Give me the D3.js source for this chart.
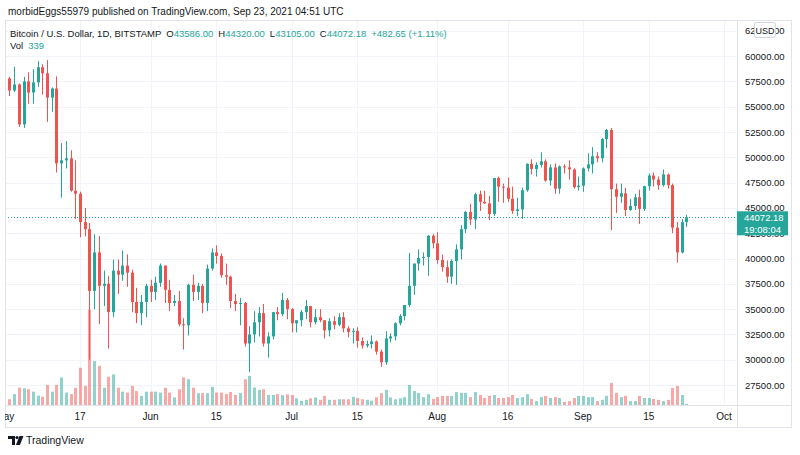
<!DOCTYPE html>
<html>
<head>
<meta charset="utf-8">
<script src="https://cdn.jsdelivr.net/npm/d3@7"></script>
<style>
  body { margin: 0; background: #fff; }
  svg { display: block; font-family: "Liberation Sans", Arial, sans-serif; }
</style>
</head>
<body>
<div id="chart"></div>
<script>

// daily candles, BITSTAMP BTC/USD, starting 2 May 2021
var firstDay = "2021-05-02";

var open = [
  57800, 56600, 57200, 53250, 57500, 56400, 57400, 58900, 58300, 55900, 56800, 49400, 49700, 49900, 46700, 46400, 43600, 42900, 36800, 40600, 37300, 37500, 34700, 38800, 38400, 39300, 38600, 35700, 34600, 35700,
  37300, 36700, 37600, 39300, 36900, 35600, 35800, 33500, 33400, 37400, 36700, 37300, 35600, 39000, 40600, 40250, 38350, 38200, 35800, 35500, 35600, 31600, 32500, 33700, 34600, 31600, 32300, 34700, 34500, 35900,
  35000, 33600, 33900, 34700, 35300, 33700, 34200, 33900, 32900, 33800, 33450, 34200, 33100, 32750, 32850, 31850, 31400, 31550, 31800, 30800, 29750, 32100, 32300, 33600, 34300, 35400, 37300, 39500, 40050, 40150, 42250,
  41500, 39850, 39150, 38200, 39750, 40900, 42900, 44600, 43850, 46350, 45600, 45450, 44400, 47950, 47100, 47000, 45900, 44700, 44850, 46750, 49350, 48850, 49250, 49600, 47700, 49000, 46900, 49100, 49000, 48800, 47050,
  47200, 48900, 49300, 50100, 49900, 51800, 52700, 46850, 46100, 46450, 44800, 45200, 46050, 44900, 47150, 48200, 47800, 47250, 48300, 47250, 43050, 40600, 43586
];
var high = [
  57950, 58950, 57300, 57950, 58400, 58700, 59500, 59200, 59600, 56900, 58000, 51400, 51600, 50700, 49700, 46600, 45000, 43500, 42400, 42200, 38800, 38300, 39900, 39900, 40800, 40400, 38900, 37100, 36400, 37500,
  37900, 38200, 39500, 39300, 37900, 36400, 36800, 34100, 37500, 38400, 37600, 37500, 39400, 41000, 41300, 40500, 39500, 38300, 36500, 36100, 35700, 33300, 34800, 35200, 35500, 32700, 34700, 35200, 36600, 36100,
  35100, 33900, 34900, 35900, 35300, 35000, 35000, 33900, 34100, 34300, 34600, 34700, 33300, 33100, 33200, 32200, 31900, 32400, 31900, 31000, 32800, 32600, 33700, 34500, 35400, 40550, 39500, 40900, 40600, 42300, 42400,
  42600, 40400, 39800, 39900, 41400, 43300, 44700, 45400, 46500, 46700, 46700, 46200, 47900, 48100, 47400, 48000, 47100, 46000, 47000, 49400, 49800, 49500, 50500, 49800, 49300, 49400, 49200, 49300, 49700, 48900, 48100,
  49000, 50400, 51000, 50500, 51900, 52800, 52900, 47400, 47400, 47000, 45900, 46400, 46800, 47200, 48400, 48500, 48100, 48800, 48400, 47400, 43600, 43900, 44320
];
var low = [
  56050, 56450, 53000, 52900, 55300, 55300, 56950, 56200, 53500, 54500, 48500, 46000, 48900, 46600, 43900, 42100, 42200, 30000, 35000, 33500, 35300, 31100, 34200, 36500, 37800, 37200, 34700, 33600, 33400, 34200,
  35700, 35900, 37200, 35600, 34800, 35300, 33300, 31000, 32400, 35800, 35900, 34600, 34800, 38800, 39500, 38100, 37400, 35100, 34800, 33400, 31300, 28800, 31700, 32300, 31300, 30200, 32000, 33900, 34300, 34000,
  32700, 32700, 33300, 34000, 33200, 33500, 33700, 32100, 32300, 33000, 33300, 32700, 32200, 31600, 31200, 31100, 31200, 31100, 30500, 29300, 29500, 31700, 31900, 33400, 33900, 35200, 36400, 38800, 39300, 38300, 41000,
  39500, 38700, 37600, 37500, 37400, 39900, 42500, 43300, 42900, 44700, 45400, 43800, 44200, 45600, 45500, 45600, 44400, 44200, 43900, 46600, 48300, 48100, 49000, 47600, 47200, 46400, 46400, 48400, 47800, 46900, 46700,
  46600, 48600, 48400, 49500, 49500, 50900, 42800, 44500, 45500, 44200, 44700, 44800, 43400, 44700, 46700, 47100, 46800, 47100, 46900, 42500, 39600, 40500, 43105
];
var close = [
  56600, 57200, 53250, 57500, 56400, 57400, 58900, 58300, 55900, 56800, 49400, 49700, 49900, 46700, 46400, 43600, 42900, 36800, 40600, 37300, 37500, 34700, 38800, 38400, 39300, 38600, 35700, 34600, 35700, 37300,
  36700, 37600, 39300, 36900, 35600, 35800, 33500, 33400, 37400, 36700, 37300, 35600, 39000, 40600, 40250, 38350, 38200, 35800, 35500, 35600, 31600, 32500, 33700, 34600, 31600, 32300, 34700, 34500, 35900, 35000,
  33600, 33900, 34700, 35300, 33700, 34200, 33900, 32900, 33800, 33450, 34200, 33100, 32750, 32850, 31850, 31400, 31550, 31800, 30800, 29750, 32100, 32300, 33600, 34300, 35400, 37300, 39500, 40050, 40150, 42250, 41500,
  39850, 39150, 38200, 39750, 40900, 42900, 44600, 43850, 46350, 45600, 45450, 44400, 47950, 47100, 47000, 45900, 44700, 44850, 46750, 49350, 48850, 49250, 49600, 47700, 49000, 46900, 49100, 49000, 48800, 47050, 47200,
  48900, 49300, 50100, 49900, 51800, 52700, 46850, 46100, 46450, 44800, 45200, 46050, 44900, 47150, 48200, 47800, 47250, 48300, 47250, 43050, 40600, 43589.53, 44072.18
];
var volume = [
  1900, 3600, 5700, 5500, 5200, 4400, 3100, 2700, 6600, 4400, 6600, 9100, 4100, 3600, 5700, 12300, 6300, 31400, 14500, 12900, 5700, 9300, 10100, 5700, 4400, 4100, 6300, 4600, 3000, 4400,
  4400, 4400, 4100, 5700, 4100, 2500, 5200, 9100, 8500, 5700, 3900, 3900, 3900, 6000, 4100, 4100, 3600, 4300, 3300, 3900, 8500, 9600, 5800, 5000, 5200, 3300, 3300, 3600, 3300, 3500,
  3300, 2200, 1400, 1700, 2200, 2500, 1700, 3000, 1700, 1700, 1900, 1900, 1900, 2700, 2300, 1900, 1700, 1400, 2500, 3900, 5000, 2500, 1900, 2200, 2600, 6600, 4600, 4000, 2600, 3600, 2000,
  2600, 3000, 3000, 3000, 4300, 4000, 4000, 2600, 4300, 3300, 2300, 3000, 3300, 2300, 2300, 2600, 3300, 2300, 2600, 3600, 2000, 1300, 2600, 3000, 2300, 2600, 2300, 1000, 1300, 2300, 3000,
  3000, 2600, 2600, 1300, 1700, 3000, 7300, 4000, 2600, 3000, 1300, 1300, 3000, 2300, 2300, 2000, 1700, 1300, 1700, 5600, 6300, 3300, 339
];

var priceTicks = [27500, 30000, 32500, 35000, 37500, 40000, 42500, 45000, 47500, 50000, 52500, 55000, 57500, 60000, 62500];
var timeTickDates = ["2021-05-01", "2021-05-17", "2021-06-01", "2021-06-15", "2021-07-01", "2021-07-15", "2021-08-01", "2021-08-16", "2021-09-01", "2021-09-15", "2021-10-01"];
var timeTickLabels = ["May", "17", "Jun", "15", "Jul", "15", "Aug", "16", "Sep", "15", "Oct"];

var lastPrice = 44072.18;
var up = "#26a69a", down = "#ef5350";
var textColor = "#131722", gridColor = "#f0f3fa", borderColor = "#e0e3eb";

// pane geometry
var W = 800, H = 455;
var paneLeft = 5, paneRight = 737, paneTop = 20, paneBottom = 405, frameRight = 791, frameBottom = 427;

var svg = d3.select("#chart").append("svg")
    .attr("width", W)
    .attr("height", H);

var parse = d3.utcParse("%Y-%m-%d");
var day0 = parse(firstDay);
var data = close.map(function(c, i) {
  return { date: d3.utcDay.offset(day0, i), o: open[i], h: high[i], l: low[i], c: c, v: volume[i] };
});

var x = d3.scaleUtc()
    .domain([parse("2021-05-17"), parse("2021-10-01")])
    .range([80, 724]);

var y = d3.scaleLinear()
    .domain([27500, 60000])
    .range([385, 56.1]);

var yVol = d3.scaleLinear()
    .domain([0, 33000])
    .range([paneBottom, 305]);

// clip for the price pane
svg.append("clipPath").attr("id", "pane")
  .append("rect")
    .attr("x", paneLeft).attr("y", paneTop)
    .attr("width", paneRight - paneLeft).attr("height", paneBottom - paneTop);
svg.append("clipPath").attr("id", "timeaxis")
  .append("rect")
    .attr("x", paneLeft).attr("y", paneBottom)
    .attr("width", paneRight - paneLeft).attr("height", frameBottom - paneBottom);

var pane = svg.append("g").attr("clip-path", "url(#pane)");

// grid
pane.selectAll(".hgrid")
  .data(priceTicks)
  .enter().append("line")
    .attr("x1", paneLeft).attr("x2", paneRight)
    .attr("y1", function(d) { return Math.round(y(d)) + 0.5; })
    .attr("y2", function(d) { return Math.round(y(d)) + 0.5; })
    .attr("stroke", gridColor);

pane.selectAll(".vgrid")
  .data(timeTickDates)
  .enter().append("line")
    .attr("x1", function(d) { return Math.round(x(parse(d))) + 0.5; })
    .attr("x2", function(d) { return Math.round(x(parse(d))) + 0.5; })
    .attr("y1", paneTop).attr("y2", paneBottom)
    .attr("stroke", gridColor);

// volume
pane.selectAll(".vol")
  .data(data)
  .enter().append("rect")
    .attr("x", function(d) { return Math.round(x(d.date)) - 1; })
    .attr("width", 3)
    .attr("y", function(d) { return yVol(d.v); })
    .attr("height", function(d) { return Math.max(1, paneBottom - yVol(d.v)); })
    .attr("fill", function(d) { return d.c >= d.o ? up : down; })
    .attr("fill-opacity", 0.5);

// wicks
pane.selectAll(".wick")
  .data(data)
  .enter().append("rect")
    .attr("x", function(d) { return Math.round(x(d.date)); })
    .attr("width", 1)
    .attr("y", function(d) { return y(d.h); })
    .attr("height", function(d) { return y(d.l) - y(d.h); })
    .attr("fill", function(d) { return d.c >= d.o ? up : down; });

// bodies
pane.selectAll(".body")
  .data(data)
  .enter().append("rect")
    .attr("x", function(d) { return Math.round(x(d.date)) - 1; })
    .attr("width", 3)
    .attr("y", function(d) { return y(Math.max(d.o, d.c)); })
    .attr("height", function(d) { return Math.max(1, Math.abs(y(d.o) - y(d.c))); })
    .attr("fill", function(d) { return d.c >= d.o ? up : down; });

// last price line
pane.append("line")
    .attr("x1", paneLeft).attr("x2", paneRight)
    .attr("y1", Math.round(y(lastPrice)) + 0.5)
    .attr("y2", Math.round(y(lastPrice)) + 0.5)
    .attr("stroke", up)
    .attr("stroke-dasharray", "1,2");

// frame + separators
svg.append("rect")
    .attr("x", paneLeft + 0.5).attr("y", paneTop + 0.5)
    .attr("width", frameRight - paneLeft).attr("height", frameBottom - paneTop)
    .attr("fill", "none").attr("stroke", borderColor);
svg.append("line")
    .attr("x1", paneRight + 0.5).attr("x2", paneRight + 0.5)
    .attr("y1", paneTop).attr("y2", frameBottom)
    .attr("stroke", borderColor);
svg.append("line")
    .attr("x1", paneLeft).attr("x2", frameRight)
    .attr("y1", paneBottom + 0.5).attr("y2", paneBottom + 0.5)
    .attr("stroke", borderColor);

// price scale labels
svg.append("g").selectAll("text")
  .data(priceTicks)
  .enter().append("text")
    .attr("x", 745)
    .attr("y", function(d) { return y(d) + 3.5; })
    .attr("font-size", 9.5)
    .attr("fill", textColor)
    .text(function(d) { return d3.format(".2f")(d); });

// USD button over the top label
svg.append("rect")
    .attr("x", 754.5).attr("y", 22.5).attr("width", 21).attr("height", 15).attr("rx", 2)
    .attr("fill", "#fff").attr("stroke", "#d1d4dc");
svg.append("text")
    .attr("x", 765).attr("y", 33.5)
    .attr("text-anchor", "middle")
    .attr("font-size", 9)
    .attr("fill", textColor)
    .text("USD");

// last price label
var ly = y(lastPrice);
svg.append("rect")
    .attr("x", paneRight).attr("y", ly - 6).attr("width", 51).attr("height", 24)
    .attr("fill", up);
svg.append("text")
    .attr("x", 744).attr("y", ly + 4)
    .attr("font-size", 9.5).attr("fill", "#fff")
    .text(d3.format(".2f")(lastPrice));
svg.append("text")
    .attr("x", 744).attr("y", ly + 15.5)
    .attr("font-size", 9.5).attr("fill", "#fff")
    .text("19:08:04");

// time axis
svg.append("g").attr("clip-path", "url(#timeaxis)")
  .selectAll("text")
  .data(timeTickDates)
  .enter().append("text")
    .attr("x", function(d) { return x(parse(d)); })
    .attr("y", 420)
    .attr("text-anchor", "middle")
    .attr("font-size", 10)
    .attr("fill", textColor)
    .text(function(d, i) { return timeTickLabels[i]; });

// header
svg.append("text")
    .attr("x", 8).attr("y", 15)
    .attr("font-size", 10)
    .attr("fill", textColor)
    .text("morbidEggs55979 published on TradingView.com, Sep 23, 2021 04:51 UTC");

// legend
var legend = svg.append("text")
    .attr("x", 10).attr("y", 37)
    .attr("font-size", 9.5)
    .attr("fill", textColor);
legend.append("tspan").text("Bitcoin / U.S. Dollar, 1D, BITSTAMP");
[["O", "43586.00"], ["H", "44320.00"], ["L", "43105.00"], ["C", "44072.18"]].forEach(function(p) {
  legend.append("tspan").attr("dx", 5).text(p[0]);
  legend.append("tspan").attr("fill", up).text(p[1]);
});
legend.append("tspan").attr("dx", 5).attr("fill", up).text("+482.65 (+1.11%)");

var volLegend = svg.append("text")
    .attr("x", 10).attr("y", 49)
    .attr("font-size", 9.5)
    .attr("fill", textColor);
volLegend.append("tspan").text("Vol");
volLegend.append("tspan").attr("dx", 5).attr("fill", up).text(volume[volume.length - 1]);

// footer logo
var logo = svg.append("g").attr("fill", textColor);
logo.append("path").attr("d", "M8,436 h7 v9 h-3 v-6 h-4 z");
logo.append("circle").attr("cx", 17).attr("cy", 437.6).attr("r", 1.6);
logo.append("path").attr("d", "M19.5,436 h4 l-3.6,9 h-4 z");
svg.append("text")
    .attr("x", 26).attr("y", 444)
    .attr("font-size", 10.5)
    .attr("fill", textColor)
    .text("TradingView");

</script>
</body>
</html>
